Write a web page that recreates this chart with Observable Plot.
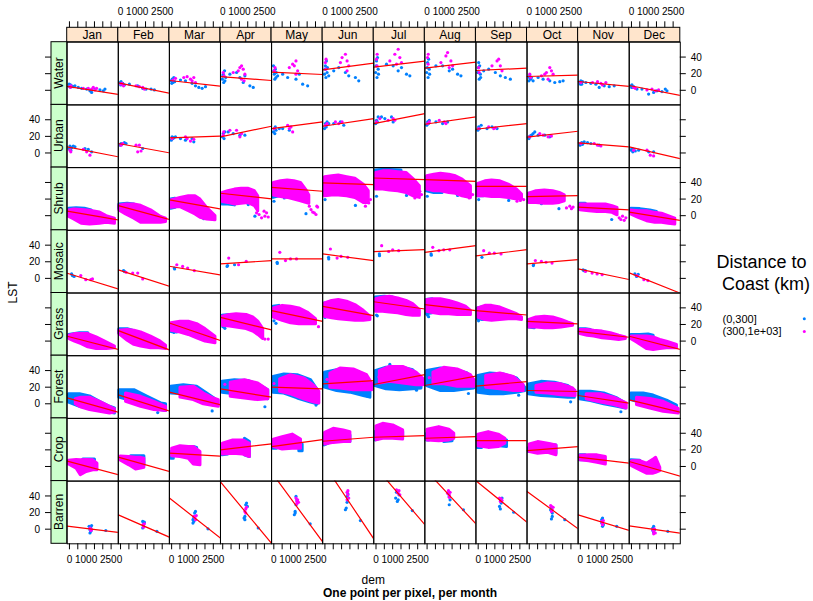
<!DOCTYPE html>
<html><head><meta charset="utf-8">
<script src="https://cdn.jsdelivr.net/npm/d3@7"></script>
<script src="https://cdn.jsdelivr.net/npm/@observablehq/plot@0.6"></script>
<style>
body{margin:0;background:#fff;font-family:"Liberation Sans",Arial,sans-serif;}
#wrap{width:813px;height:601px;}
</style></head><body><div id="wrap"></div>
<script>
const months = ["Jan","Feb","Mar","Apr","May","Jun","Jul","Aug","Sep","Oct","Nov","Dec"];
const covers = ["Water","Urban","Shrub","Mosaic","Grass","Forest","Crop","Barren"];
const groups = ["(0,300]","(300,1e+03]"];
const groupColors = ["#0080ff","#ff00ff"];
const demDomain = [-165, 2900];
const lstDomain = [-17, 58.5];
const demTicks = [0,500,1000,1500,2000,2500];
const demLabels = [0,1000,2500];
const lstTicks = [0,20,40];

// sparse rows: points "dem,lst;..." per month
const waterNear = ["-50,8;-20,5;0,6;30,7;60,5;100,6;200,5;300,6;500,4;700,3;1000,2;1200,0;1300,-2;1500,2;1800,1;2000,0;2100,2","-50,10;-20,7;0,11;50,8;100,9;200,7;500,8;1000,6;1300,3;1500,2;1800,2;2000,1","-50,12;-20,9;0,14;50,10;100,16;150,11;500,13;800,12;1200,9;1400,6;1600,4;1800,3;2000,5","-50,14;-20,18;0,20;30,10;80,24;100,12;150,16;400,20;800,22;1000,16;1200,10;1300,18;1600,6;1800,4","-50,30;-20,24;0,20;30,14;60,26;100,16;120,22;200,18;500,20;800,16;1300,14;1500,20;1700,8;2000,6","-50,20;-20,26;0,30;30,16;60,36;100,22;120,28;200,18;500,24;800,28;1200,22;1400,18;1800,16;2000,12","-50,22;-20,30;0,36;30,16;60,40;100,26;120,20;600,32;1000,30;1300,24;1500,28;1800,20;2000,18","-50,22;-20,28;0,34;30,16;60,38;100,26;120,20;500,30;900,30;1300,24;1500,26;1800,20;2000,18","-50,22;-20,28;0,34;30,14;60,30;100,20;120,16;300,24;600,26;1000,22;1300,18;1600,16;1900,14","-50,12;-20,16;0,18;50,14;100,16;200,12;500,16;800,14;1200,12;1500,10;1800,11;2000,12","-50,10;-20,8;0,12;50,8;100,11;300,10;600,9;900,8;1100,4;1400,6;1700,5;2000,6","-50,6;-20,4;0,7;50,4;100,5;300,2;600,2;1000,-4;1300,-2;1500,0;1800,-1;2000,2;2100,0"];
const waterFar = ["0,5;30,4;60,6;800,3;1100,3;1300,2;1400,4;1500,1;1600,3","0,8;50,9;150,6;900,6;1100,5;1300,4;1400,2","50,13;200,15;700,16;900,17;1100,14;1200,12;1300,16;1400,10","0,22;50,18;600,22;900,24;1000,28;1100,30;1200,26;1300,20;1100,14;1250,12","0,24;40,28;900,28;1100,32;1200,30;1300,36;1400,24;1300,20","0,34;30,26;40,38;900,34;1000,40;1200,44;1300,36;1400,30;1300,24","0,38;30,30;40,44;800,36;1100,44;1300,50;1400,40;1200,32;1500,34","0,40;30,32;40,44;800,34;1100,42;1200,46;1400,36;1300,28;1500,30","0,28;30,22;800,30;1100,36;1200,38;1300,30;1400,24","0,20;50,16;700,18;900,20;1000,22;1200,28;1300,24;1400,20;1100,14","0,10;700,10;1000,11;1200,9;1300,7;1500,10","100,4;200,3;900,1;1200,2;1400,0;1600,1"];
const urbanNear = ["-50,6;0,9;50,4;100,7;200,9;300,8;900,6;1100,5;1300,2","-50,10;0,12;50,11;200,13;300,12;1300,6","-50,16;0,20;50,18;100,19;200,20;500,18;800,16;1200,18;1300,14","-50,20;0,24;50,18;100,26;300,26;600,24;1000,22;1300,22","-50,26;0,30;30,24;60,32;100,28;300,30;500,30;900,28","-50,30;0,36;50,32;100,38;200,36;500,36;900,38;1100,34","-50,36;0,40;50,38;100,44;300,44;500,42;900,44;1000,38","-50,34;0,38;50,36;100,40;500,38;900,36;1200,38","-50,28;0,32;50,30;150,34;500,30;800,32;1100,30","-50,18;0,21;100,22;200,24;300,26;500,22;900,22;1200,20","-50,10;0,12;50,13;100,11;200,14;400,13;600,12;1100,10","-50,4;0,6;50,2;100,5;200,3;400,4;1000,2;1300,2"];
const urbanFar = ["0,4;50,2;800,5;1000,2;1200,-2","0,10;100,12;900,10;1000,2;1100,10;1200,3","0,18;800,20;900,18;1100,15;1300,17","0,22;30,26;400,28;800,28;1000,20;1100,24","0,30;800,34;900,30;1100,26;1000,32","0,34;100,36;600,38;800,36;1000,38","0,38;200,42;700,40;1000,42;1100,40","0,36;100,38;700,40;1000,38;1100,36","0,30;600,32;900,30;1000,31","0,20;600,24;800,22;1100,20;1300,21","0,12;800,12;1000,10;1200,9","100,4;900,4;1100,-2;1300,-3"];
const mosaicNear = ["100,6;150,4;250,3","150,10;200,9","130,13;150,12","230,15;260,16;680,17","170,20;180,18.5","190,26;200,24","170,30;180,28","210,30;220,28.5","195,26","215,16;230,17","135,11;170,10;275,10","175,6;275,3;375,5.5"];
const mosaicFar = ["650,4;950,-1;1350,0;1250,-1","300,8;700,7;1000,7;1300,0","280,17;630,15;930,13;1330,10","330,25;920,17;1380,21","330,32;670,22;970,24;1330,24","300,36;700,25;940,27;1340,26","310,40;730,33;970,35;1330,34","310,38;680,34;970,35;1330,35","300,34;640,31;940,31;1340,30","335,22;695,21;975,20;1335,19","275,9;675,7;975,6;1275,5","300,4;715,-1;955,-2"];
const barrenNear = ["1150,4;1200,0;1250,2;1200,-4;1300,5;1250,-2;2150,-1","1300,2;1350,4;1400,9;1300,10;1350,6;2150,-2","1250,8;1300,10;1350,20;1400,22;1300,14;1250,12;2150,1","1250,14;1300,16;1350,30;1400,32;1450,28;1300,12;2100,2","1200,18;1250,22;1300,40;1350,36;1300,30;1250,20;2150,7","1200,24;1250,26;1300,40;1350,43;1300,33;2100,11","1150,38;1250,34;1300,36;1200,45;1350,42;2150,23","1250,43;1300,40;1350,36;1300,30;2150,24","1250,28;1300,36;1350,32;1300,25;1400,38;2100,21","1250,24;1300,26;1350,20;1300,13;1350,16;2100,12","1250,12;1300,14;1300,4;1350,6;1250,8;2150,4","1250,2;1300,4;1350,0;1300,-3;1250,-1;2150,-2"];
const barrenFar = ["1200,2;1250,-1;1300,0;1220,1","1320,6;1350,3;1400,7","1300,16;1350,15;1400,12;1450,17","1300,22;1350,25;1400,27;1350,20","1300,38;1350,34;1400,36;1450,33;1350,31","1300,45;1350,42;1400,38;1350,47;1300,36","1200,48;1250,46;1300,44;1350,47;1400,42","1200,44;1250,47;1300,42;1350,45;1300,39","1250,38;1300,34;1350,37;1400,35","1250,29;1300,28;1350,24;1400,27;1300,22","1250,10;1300,8;1350,11;1300,6","1250,0;1300,-2;1350,1;1400,-4;1300,-5"];

// dense rows: cloud extent "dem,low,high;..." per month ("|" separates clusters)
const shrubNearBand = ["-50,3,9;400,4,9.5;900,4,9;1300,3,7","-100,9,14;400,9,15;800,9,14","-60,9,20;200,10,21","-50,14,26;300,14,25;700,13,22","-50,22,38;300,24,40","-50,26,44;200,28,46","-50,34,55;500,36,56;1500,36,55","-50,30,47;400,28,46;900,28,44","-50,24,38;300,24,38","-50,17,27;400,16,28","-50,8,15;300,8,15","-50,3,9;500,3,8.5;1100,2,7;1500,1,5"];
const shrubFarBand = ["-50,-1,7;250,-4,8;700,-9,7.5;1200,-10,6.5;1800,-9,4.5;2200,-8,0;2700,-9,-3","-100,7,12.5;300,2,14;800,-3,14;1200,-8,12.5;1800,-8,7;2400,-8,-1;2700,-7,-3","-50,10,19;500,11,22;1000,6,24;1400,2,24;1700,-2,20;2100,-4,10;2600,-5,0","-30,17,28;300,16,30;700,14,32;1100,15,33;1500,16,33;1900,12,30;2100,6,24","-30,25,40;400,23,42;800,22,43;1200,20,42;1600,18,40;1900,16,32;2100,15,25","-30,24,47;400,25,48;800,25,49;1300,24,47;1800,22,45;2300,16,38;2600,16,30","-30,32,52;400,32,54;800,31,54;1300,30,53;1800,28,52;2200,24,45;2600,22,36","-30,32,48;400,30,50;800,30,51;1300,28,50;1700,27,48;2100,24,44;2600,22,36","-30,24,39;400,24,42;800,23,43;1300,23,42;1800,22,38;2300,20,32;2600,20,26","-30,16,27;400,16,30;900,15,31;1400,15,30;1800,16,28;2100,18,25","-30,7,14;500,6,14;1000,5,14;1500,5,14;1900,4,12;2200,1,10","-30,2,7;400,-2,6;900,-6,6;1400,-8,4;1800,-8,3;2200,-9,0;2600,-10,-3"];
const shrubNearPts = ["","","1900,-3;2050,-2","1900,0;1500,14","-20,18;1900,3;600,22","-20,20;1800,13","0,24;1800,25","-20,24;1800,25","0,20;1800,19","700,15;1750,9","1850,-4",""];
const shrubFarPts = ["","","","2000,4;2150,2;2300,-2;2500,0;2600,4;2700,-1;2450,6","2100,12;2200,8;2300,5;2400,4;2500,2;2550,12;2600,11","2400,12;2600,16;2700,20","2300,22;2500,24;2700,26;2600,30","2300,24;2500,22;2700,26","2300,18;2500,19;2700,20","2200,10;2400,12;2600,11;2500,9","2300,-2;2400,-4;2500,0;2600,-5;2700,-2",""];
const grassNearBand = ["-50,4,8;600,5,10;1100,5,10","-100,10,15;400,10,15;700,8,13","-60,12,21;300,11,20","-50,20,31;400,20,32","-50,30,42;300,30,43","-50,32,46;300,33,47","-50,37,53;500,38,54;1000,37,53","-50,33,50;300,34,51","-50,27,40;400,26,42","-50,17,26;300,16,25","-50,10,15;300,9,15;600,8,14","-50,4,8;500,4,8;1000,3,8.5;1300,2,7"];
const grassFarBand = ["-30,3,7;300,0,9;700,-3,9;1100,-7,9;1600,-9,5;2200,-9,-1;2700,-8,-6","-100,9,13;400,1,14;800,-4,13;1200,-6,11;1800,-8,6;2300,-8,1;2700,-9,-5","-50,13,22;500,11,24;1000,8,24;1500,4,21;2000,0,15;2600,-2,6","-30,19,30;400,18,32;800,17,33;1400,15,32;1800,12,29;2100,8,24;2400,3,15","-30,29,40;500,25,43;1000,22,42;1500,21,40;2000,21,35;2500,21,27","-30,30,46;400,28,49;800,27,50;1300,26,48;1800,25,44;2300,25,37;2700,26,30","-30,36,51;400,36,53;800,35,54;1300,34,52;1800,32,49;2200,31,45;2600,31,38","-30,36,50;400,34,51;800,33,51;1300,33,49;1800,32,46;2300,32,42;2600,32,37","-30,29,40;400,26,43;800,25,43;1300,26,41;1800,27,37;2300,27,33;2600,26,29","-30,17,26;400,17,29;900,16,30;1400,16,29;1900,17,26;2300,18,23;2600,19,21","-30,9,14;400,7,14;800,6,13;1300,4,12;1800,3,10;2300,2,7;2700,3,5","-30,3,6;300,-1,6;600,-5,6;900,-9,6;1300,-10,5;1700,-9,2;2100,-8,0;2700,-8,-4"];
const grassNearPts = ["","","-40,12;100,11","-20,18;100,16","-20,25;100,22","-20,29;150,30","0,32;50,31","-20,32;60,30","-10,25;200,27","","",""];
const grassFarPts = ["","","","2500,3;2700,3","2650,18","","","","","","",""];
const forestNearBand = ["-60,2,12;600,-3,12;1200,-5,9.5;1800,-8,3;2400,-10,-3;2700,-11,-5","-100,8,17;800,3,17;1600,-3,9;2400,-7,1;2700,-8,0","-60,13,21;700,12,23;1500,9,21;2100,1,13;2600,-2,6","-50,14,27;700,12,29;1500,10,28;2200,8,23;2700,6,17","-50,14,33;600,13,36;1400,7,35;2200,2,29;2600,0,17","-30,20,38;700,16,41;1500,14,41;2300,10,35;2700,8,25","-60,22,40;600,18,44;1400,17,45;2200,18,41;2700,19,31","-30,22,40;800,16,43;1600,16,42;2400,18,37;2800,19,29","-30,14,34;700,12,37;1500,12,36;2300,14,31;2800,16,20","-60,12,24;700,10,27;1500,9,26;2300,8,22;2700,8,16","-60,6,15;600,4,15;1400,0,13;2200,-3,7;2700,-5,1","-50,5,13;700,1,13;1300,-1,10.5;2100,-5,4.5;2700,-10,-1.5"];
const forestFarBand = ["350,0,6;700,-4,8;1200,-7,8;1800,-9,3;2400,-11,-3;2700,-10,-6","300,3,13;1200,-3,9;2000,-7,3;2700,-8,-3","500,8,20;1300,5,21;1900,0,13;2500,-2,7;2800,-3,5","450,9,26;1300,7,29;2100,5,25;2700,6,17","350,15,30;1000,12,35;1800,6,31;2400,2,22;2700,1,15","300,20,37;900,19,43;1700,17,42;2500,17,35;2800,17,25","200,25,40;800,27,45;1600,25,45;2400,23,38;2800,23,31","350,24,38;1000,24,44;1800,21,42;2600,21,35;2800,21,29","450,20,34;1300,18,37;2100,16,33;2700,16,23","400,14,22;1100,13,25;1900,11,24;2600,10,19;2750,10,16","350,6,12;1200,2,12;2000,-1,8;2750,-5,1","300,-1,8;1100,-5,6.5;1900,-9,3;2800,-11,-5.5"];
const forestNearPts = ["","2400,1;2200,-10","2400,-8","2500,-3","2500,-1","2500,10","800,48;2400,17","2450,13","2400,11","2450,3","2400,-9",""];
const forestFarPts = ["","","","100,24","-20,25","100,30","150,33","100,32","","","",""];
const cropNearBand = ["800,2,9;1500,2,9","600,4,13;1400,2,13","-50,10,18;100,10,17|1300,15,24;1500,15,23","-50,14,26;300,15,24|1300,14,34;1600,12,30","-50,22,30;150,22,30|1000,25,33;1200,25,33|1500,19,27;1700,19,27","-50,26,36;200,28,38|1100,31,40;1500,30,38","-50,32,42;100,33,44|1100,36,46;1600,36,42","-30,32,40;100,32,40|1000,30,40;1500,31,40","-50,23,33;200,23,30|1300,25,34;1700,24,32","-50,18,23;50,18,23|1100,17,27;1600,16,26","-50,8,14;300,8,14","-50,3,8;500,3,7.5|1100,-1,6;1400,-3,7"];
const cropFarBand = ["-60,3,7.5;400,-2,8.5;650,-10,8;1000,-6,8.5;1400,-4,8;1650,-4,4","-30,8,12.5;500,2,12;900,-3,11;1200,-2,11;1400,-1,10","0,13,22;500,12,25;1000,10,24;1300,3,24;1700,2,18","-20,15,28;600,16,32;1200,15,32;1600,12,28","-30,24,33;500,21,36;1100,22,39;1600,22,33","-20,27,41;500,29,46;1100,30,44;1500,30,42","0,32,49;400,34,52;1000,34,50;1600,33,44","0,32,45;700,31,48;1300,32,45;1600,34,40","-20,25,39;600,23,42;1200,24,39;1600,28,34","0,18,27;500,16,30;1100,17,28;1600,14,26","-20,8,13.5;500,7,14;1000,5,14;1500,3,12","0,1,7;500,-4,7;900,-8,4;1300,-8,9;1450,-7,11;1700,-5,-1"];

// fitted regression line: LST at the left and right ends of the dem range
const waterFit = [[5.2,-4.4],[9.6,-2.8],[12.4,5.6],[17,12.4],[22.4,19.6],[25.2,33.2],[28.4,35.6],[27.2,34.4],[24.4,27.2],[17.2,18.8],[11.2,5.2],[6.4,-5.6]];
const urbanFit = [[8,-4],[12,0.8],[18.8,20.8],[20,32.8],[30,38],[32.8,42],[36,48],[35.2,44],[29.2,36],[19.6,26.8],[12.8,8],[8,-6.4]];
const shrubFit = [[6,-4.4],[12.8,-4],[19.6,8.8],[27.6,20.8],[34.8,30],[40,38],[46,44],[44,42],[36,36],[23.6,24.8],[10.8,7.6],[4.8,-5.2]];
const mosaicFit = [[6.8,-12],[10.8,-8.8],[15.2,4.8],[18,22],[24,24],[30,22],[32.8,35.2],[32,40],[27.6,35.2],[18,23.2],[12,-0.8],[7.2,-17.2]];
const grassFit = [[6.4,-9.6],[13.2,-10],[22.4,1.2],[29.2,14],[37.2,24.4],[42.4,31.2],[48,39.2],[44.4,37.2],[37.2,32],[24.4,21.2],[12.4,5.2],[6.4,-9.6]];
const forestFit = [[7.8,-9.4],[11.4,-8.2],[14.6,-0.6],[18.6,8.6],[20.6,18.6],[24.6,28.6],[23.8,35.8],[22.6,33.8],[21.8,27.4],[16.6,15.4],[10.6,1.4],[5.4,-9.4]];
const cropFit = [[7,-9.4],[11.8,-5.4],[16.6,13],[20.6,27.8],[24.6,33],[31,35.8],[35.8,37.8],[34.6,36.6],[31.8,31.8],[19.8,24.6],[11.8,4.6],[6.6,-11]];
const barrenFit = [[4.2,-3.4],[17.8,-9],[38.2,-10.2],[57.5,-16.5],[69,-14.6],[81,-11],[78,6],[73,7],[59,9],[46,1],[17.8,-1],[4.6,-4.2]];

// ---- build tables ----
const pointRows = [], bandRows = [], fitRows = [];
function addPts(cover, group, strs) {
  strs.forEach((s, i) => {
    if (!s) return;
    s.split(";").forEach(p => {
      const [dem, lst] = p.split(",").map(Number);
      pointRows.push({month: months[i], cover, group, dem, lst});
    });
  });
}
function addBands(cover, group, strs) {
  strs.forEach((s, i) => {
    if (!s) return;
    s.split("|").forEach((seg, k) => {
      seg.split(";").forEach(p => {
        const [dem, lo, hi] = p.split(",").map(Number);
        bandRows.push({month: months[i], cover, group, seg: cover + months[i] + group + k, dem, lo, hi});
      });
    });
  });
}
function addFit(cover, arr) {
  arr.forEach((f, i) => {
    const key = cover + months[i];
    fitRows.push({month: months[i], cover, key, dem: demDomain[0], lst: f[0]});
    fitRows.push({month: months[i], cover, key, dem: demDomain[1], lst: f[1]});
  });
}
addPts("Water", groups[0], waterNear); addPts("Water", groups[1], waterFar);
addPts("Urban", groups[0], urbanNear); addPts("Urban", groups[1], urbanFar);
addPts("Mosaic", groups[0], mosaicNear); addPts("Mosaic", groups[1], mosaicFar);
addPts("Barren", groups[0], barrenNear); addPts("Barren", groups[1], barrenFar);
addBands("Shrub", groups[0], shrubNearBand); addBands("Shrub", groups[1], shrubFarBand);
addPts("Shrub", groups[0], shrubNearPts); addPts("Shrub", groups[1], shrubFarPts);
addBands("Grass", groups[0], grassNearBand); addBands("Grass", groups[1], grassFarBand);
addPts("Grass", groups[0], grassNearPts); addPts("Grass", groups[1], grassFarPts);
addBands("Forest", groups[0], forestNearBand); addBands("Forest", groups[1], forestFarBand);
addPts("Forest", groups[0], forestNearPts); addPts("Forest", groups[1], forestFarPts);
addBands("Crop", groups[0], cropNearBand); addBands("Crop", groups[1], cropFarBand);
addFit("Water", waterFit); addFit("Urban", urbanFit); addFit("Shrub", shrubFit); addFit("Mosaic", mosaicFit);
addFit("Grass", grassFit); addFit("Forest", forestFit); addFit("Crop", cropFit); addFit("Barren", barrenFit);

const font = '"Liberation Sans", Arial, Helvetica, sans-serif';
const g0 = d => d.group === groups[0], g1 = d => d.group === groups[1];
const bandOpts = {x: "dem", y1: "lo", y2: "hi", z: "seg", fx: "month", fy: "cover", fill: "group", stroke: "group", strokeWidth: 3, strokeLinejoin: "round"};
const dotOpts = {x: "dem", y: "lst", fx: "month", fy: "cover", fill: "group", r: 1.6};

const plot = Plot.plot({
  width: 813, height: 601,
  marginLeft: 66.7, marginRight: 133.2, marginTop: 41.7, marginBottom: 57.7,
  style: {fontFamily: font, background: "white", overflow: "visible"},
  x: {domain: demDomain, axis: null},
  y: {domain: lstDomain, axis: null},
  fx: {domain: months, padding: 0, round: false, axis: null},
  fy: {domain: covers, padding: 0, round: false, axis: null},
  color: {domain: groups, range: groupColors},
  marks: [
    Plot.areaY(bandRows.filter(g0), bandOpts),
    Plot.dot(pointRows.filter(g0), dotOpts),
    Plot.areaY(bandRows.filter(g1), bandOpts),
    Plot.dot(pointRows.filter(g1), dotOpts),
    Plot.line(fitRows, {x: "dem", y: "lst", z: "key", fx: "month", fy: "cover", stroke: "red", strokeWidth: 1.2, clip: true}),
    Plot.frame({stroke: "black", strokeWidth: 1})
  ]
});
document.getElementById("wrap").appendChild(plot);

// ---- strips, axes and legend, positioned from Plot's scales ----
const svg = d3.select(plot);
const fxS = plot.scale("fx"), fyS = plot.scale("fy"), xS = plot.scale("x"), yS = plot.scale("y");
const x0 = Math.min(...xS.range), fw = Math.abs(xS.range[1] - xS.range[0]);
const y0 = Math.min(...yS.range), fh = Math.abs(yS.range[1] - yS.range[0]);
const colL = m => fxS.apply(m), rowT = c => fyS.apply(c);
const PX = (m, v) => colL(m) + xS.apply(v) - x0;
const PY = (c, v) => rowT(c) + yS.apply(v) - y0;
const gTop = rowT(covers[0]), gBot = rowT(covers[covers.length - 1]) + fh;
const gLeft = colL(months[0]), gRight = colL(months[months.length - 1]) + fw;
const stripH = 14.4, stripW = 15.7, tk = 6;
const deco = svg.append("g").attr("font-family", font).attr("fill", "black");

months.forEach((m, i) => {
  deco.append("rect").attr("x", colL(m)).attr("y", gTop - stripH).attr("width", fw).attr("height", stripH)
    .attr("fill", "#ffe5cc").attr("stroke", "black");
  deco.append("text").attr("x", colL(m) + fw / 2).attr("y", gTop - stripH / 2).attr("dy", "0.36em")
    .attr("text-anchor", "middle").attr("font-size", 12).text(m);
  demTicks.forEach(v => {
    const x = PX(m, v);
    deco.append("line").attr("x1", x).attr("x2", x).attr("y1", gTop - stripH).attr("y2", gTop - stripH - tk).attr("stroke", "black");
    deco.append("line").attr("x1", x).attr("x2", x).attr("y1", gBot).attr("y2", gBot + tk).attr("stroke", "black");
  });
  demLabels.forEach(v => {
    if (i % 2 === 1) deco.append("text").attr("x", PX(m, v)).attr("y", 15).attr("text-anchor", "middle").attr("font-size", 10).text(v);
    else deco.append("text").attr("x", PX(m, v)).attr("y", 563).attr("text-anchor", "middle").attr("font-size", 10).text(v);
  });
});
covers.forEach((c, j) => {
  deco.append("rect").attr("x", gLeft - stripW).attr("y", rowT(c)).attr("width", stripW).attr("height", fh)
    .attr("fill", "#ccffcc").attr("stroke", "black");
  deco.append("text").attr("transform", `translate(${gLeft - stripW / 2},${rowT(c) + fh / 2}) rotate(-90)`).attr("dy", "0.36em")
    .attr("text-anchor", "middle").attr("font-size", 12).text(c);
  lstTicks.forEach(v => {
    const y = PY(c, v);
    deco.append("line").attr("x1", gLeft - stripW).attr("x2", gLeft - stripW - tk).attr("y1", y).attr("y2", y).attr("stroke", "black");
    deco.append("line").attr("x1", gRight).attr("x2", gRight + tk).attr("y1", y).attr("y2", y).attr("stroke", "black");
    if (j % 2 === 1) deco.append("text").attr("x", gLeft - stripW - tk - 5).attr("y", y).attr("dy", "0.36em").attr("text-anchor", "end").attr("font-size", 10).text(v);
    else deco.append("text").attr("x", gRight + tk + 5).attr("y", y).attr("dy", "0.36em").attr("text-anchor", "start").attr("font-size", 10).text(v);
  });
});
deco.append("text").attr("transform", `translate(16.5,${(gTop + gBot) / 2}) rotate(-90)`).attr("text-anchor", "middle").attr("font-size", 12).text("LST");
deco.append("text").attr("x", (gLeft + gRight) / 2).attr("y", 584).attr("text-anchor", "middle").attr("font-size", 12).text("dem");
deco.append("text").attr("x", 410).attr("y", 597).attr("text-anchor", "middle").attr("font-size", 12).attr("font-weight", "bold").text("One point per pixel, per month");
// legend
deco.append("text").attr("x", 761.5).attr("y", 268).attr("text-anchor", "middle").attr("font-size", 18).text("Distance to");
deco.append("text").attr("x", 766).attr("y", 290).attr("text-anchor", "middle").attr("font-size", 18).text("Coast (km)");
groups.forEach((gname, k) => {
  deco.append("text").attr("x", 722.5).attr("y", 322.5 + k * 12.6).attr("text-anchor", "start").attr("font-size", 11).text(gname);
  deco.append("circle").attr("cx", 804.3).attr("cy", 318.8 + k * 12.6).attr("r", 1.5).attr("fill", groupColors[k]);
});
</script>
</body></html>
